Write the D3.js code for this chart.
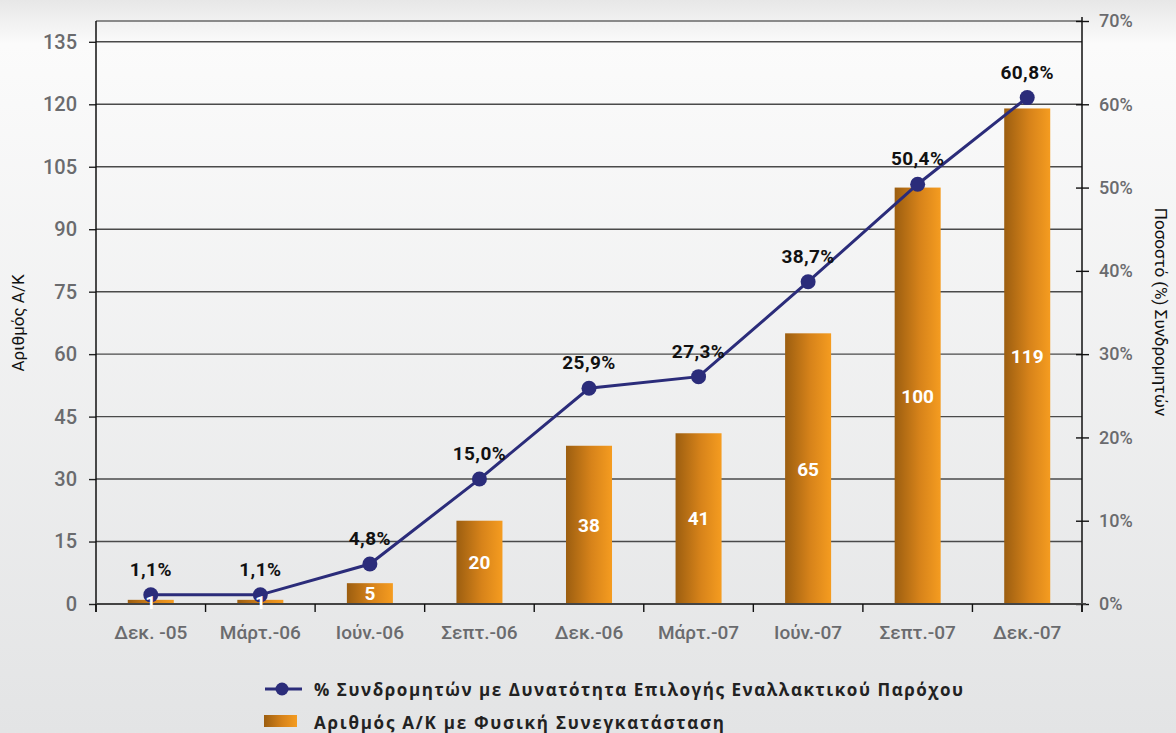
<!DOCTYPE html>
<html><head><meta charset="utf-8">
<script src="https://cdn.jsdelivr.net/npm/d3@7"></script>
<style>html,body{margin:0;padding:0;overflow:hidden;}svg{display:block;}</style>
</head><body>
<script>
const categories = ["Δεκ. -05","Μάρτ.-06","Ιούν.-06","Σεπτ.-06","Δεκ.-06","Μάρτ.-07","Ιούν.-07","Σεπτ.-07","Δεκ.-07"];
const barValues = [1,1,5,20,38,41,65,100,119];
const pctValues = [1.1,1.1,4.8,15.0,25.9,27.3,38.7,50.4,60.8];
const leftTicks = [0,15,30,45,60,75,90,105,120,135];
const rightTicks = [0,10,20,30,40,50,60,70];
const leftTitle = "Αριθμός Α/Κ";
const rightTitle = "Ποσοστό (%) Συνδρομητών";
const lineLegend = "% Συνδρομητών με Δυνατότητα Επιλογής Εναλλακτικού Παρόχου";
const barLegend = "Αριθμός Α/Κ με Φυσική Συνεγκατάσταση";

const W = 1176, H = 733;
const m = {left:96, right:1082, top:21, bottom:604};
const navy = "#2b2c7a";
const fontF = "Roboto, 'Open Sans', sans-serif";
const legendF = "'Open Sans', Roboto, sans-serif";

const svg = d3.select("body").append("svg").attr("width",W).attr("height",H);
const defs = svg.append("defs");
const bg = defs.append("linearGradient").attr("id","bg").attr("x1",0).attr("y1",0).attr("x2",0).attr("y2",1);
bg.append("stop").attr("offset","0").attr("stop-color","#e7e7e7");
bg.append("stop").attr("offset","0.06").attr("stop-color","#fbfbfb");
bg.append("stop").attr("offset","1").attr("stop-color","#e3e4e5");
const bar = defs.append("linearGradient").attr("id","bar").attr("x1",0).attr("y1",0).attr("x2",1).attr("y2",0);
bar.append("stop").attr("offset","0").attr("stop-color","#9c5e10");
bar.append("stop").attr("offset","0.55").attr("stop-color","#d7831a");
bar.append("stop").attr("offset","1").attr("stop-color","#f59c20");

svg.append("rect").attr("width",W).attr("height",H).attr("fill","url(#bg)");

const x = d3.scaleBand().domain(categories).range([m.left,m.right]).paddingInner(0).paddingOuter(0);
const yL = d3.scaleLinear().domain([0,140]).range([m.bottom,m.top]);
const yR = d3.scaleLinear().domain([0,70]).range([m.bottom,m.top]);
const bw = x.bandwidth();
const cx = c => x(c) + bw/2;

// gridlines
svg.append("g").selectAll("line").data(leftTicks.filter(d=>d>0)).join("line")
  .attr("x1",m.left).attr("x2",m.right).attr("y1",d=>yL(d)).attr("y2",d=>yL(d))
  .attr("stroke","#4a4a4a").attr("stroke-width",1.4);
// top border
svg.append("line").attr("x1",m.left).attr("x2",m.right).attr("y1",m.top).attr("y2",m.top)
  .attr("stroke","#8a8a8a").attr("stroke-width",2);

// bars
svg.append("g").selectAll("rect").data(barValues).join("rect")
  .attr("x",(d,i)=>cx(categories[i]) - bw*0.21)
  .attr("width",bw*0.42)
  .attr("y",d=>yL(d)).attr("height",d=>yL(0)-yL(d))
  .attr("fill","url(#bar)");

// left axis
const gL = svg.append("g").attr("transform",`translate(${m.left},0)`)
  .call(d3.axisLeft(yL).tickValues(leftTicks).tickSize(7).tickPadding(12));
gL.select(".domain").remove();
gL.selectAll(".tick line").attr("stroke","#222").attr("stroke-width",1.4);
gL.selectAll("text").attr("font-family",fontF).attr("font-size",20).attr("font-weight",500).attr("fill","#6a6b6e");
svg.append("line").attr("x1",m.left).attr("x2",m.left).attr("y1",m.top).attr("y2",m.bottom+8).attr("stroke","#111").attr("stroke-width",1.5);

// right axis
const gR = svg.append("g").attr("transform",`translate(${m.right},0)`)
  .call(d3.axisRight(yR).tickValues(rightTicks).tickSize(7).tickPadding(10).tickFormat(d=>d+"%"));
gR.select(".domain").remove();
gR.selectAll(".tick line").attr("x1",-6).attr("stroke","#111").attr("stroke-width",1.4);
gR.selectAll("text").attr("font-family",fontF).attr("font-size",18).attr("font-weight",500).attr("fill","#6a6b6e");
svg.append("line").attr("x1",m.right).attr("x2",m.right).attr("y1",m.top-4).attr("y2",m.bottom+8).attr("stroke","#111").attr("stroke-width",1.5);

// bottom axis
svg.append("line").attr("x1",m.left).attr("x2",m.right+4).attr("y1",m.bottom).attr("y2",m.bottom).attr("stroke","#444").attr("stroke-width",2);
const bounds = categories.map(c=>x(c)).concat([m.right]);
svg.append("g").selectAll("line").data(bounds).join("line")
  .attr("x1",d=>d).attr("x2",d=>d).attr("y1",m.bottom).attr("y2",m.bottom+8).attr("stroke","#111").attr("stroke-width",1.4);
const gB = svg.append("g").attr("transform",`translate(0,${m.bottom})`)
  .call(d3.axisBottom(x).tickSize(0).tickPadding(22));
gB.select(".domain").remove();
gB.selectAll("text").attr("font-family",fontF).attr("font-size",19).attr("font-weight",500).attr("fill","#6a6b6e");

// axis titles
svg.append("text").attr("transform",`translate(24,${323}) rotate(-90)`).attr("text-anchor","middle")
  .attr("font-family",fontF).attr("font-size",17).attr("fill","#111").text(leftTitle);
svg.append("text").attr("transform",`translate(1155,${312}) rotate(90)`).attr("text-anchor","middle")
  .attr("font-family",fontF).attr("font-size",17).attr("fill","#111").text(rightTitle);

// line
const line = d3.line().x((d,i)=>cx(categories[i])).y(d=>yR(d));
svg.append("path").datum(pctValues).attr("d",line).attr("fill","none").attr("stroke",navy).attr("stroke-width",3);
svg.append("g").selectAll("circle").data(pctValues).join("circle")
  .attr("cx",(d,i)=>cx(categories[i])).attr("cy",d=>yR(d)).attr("r",7.5).attr("fill",navy);

// bar labels
svg.append("g").selectAll("text").data(barValues).join("text")
  .attr("x",(d,i)=>cx(categories[i])).attr("y",d=>(yL(d)+yL(0))/2).attr("dy","0.36em")
  .attr("text-anchor","middle").attr("font-family",fontF).attr("font-size",19).attr("font-weight",700)
  .attr("fill","#fff").text(d=>d);

// point labels
const fmt = d => d3.format(".1f")(d).replace(".",",")+"%";
svg.append("g").selectAll("text").data(pctValues).join("text")
  .attr("x",(d,i)=>cx(categories[i])).attr("y",d=>yR(d)-19)
  .attr("text-anchor","middle").attr("font-family",fontF).attr("font-size",19).attr("font-weight",700)
  .attr("letter-spacing",0.4).attr("fill","#111").text(fmt);

// legend
const lg = svg.append("g");
lg.append("line").attr("x1",265).attr("x2",302).attr("y1",689).attr("y2",689).attr("stroke",navy).attr("stroke-width",3);
lg.append("circle").attr("cx",282).attr("cy",689).attr("r",6.5).attr("fill",navy);
lg.append("text").attr("x",314).attr("y",696).attr("font-family",legendF).attr("font-size",17).attr("font-weight",700)
  .attr("fill","#222").attr("textLength",649).attr("lengthAdjust","spacing").text(lineLegend);
lg.append("rect").attr("x",264).attr("y",715).attr("width",33).attr("height",12).attr("fill","url(#bar)");
lg.append("text").attr("x",314).attr("y",729).attr("font-family",legendF).attr("font-size",17).attr("font-weight",700)
  .attr("fill","#222").attr("textLength",410).attr("lengthAdjust","spacing").text(barLegend);
</script>
</body></html>
